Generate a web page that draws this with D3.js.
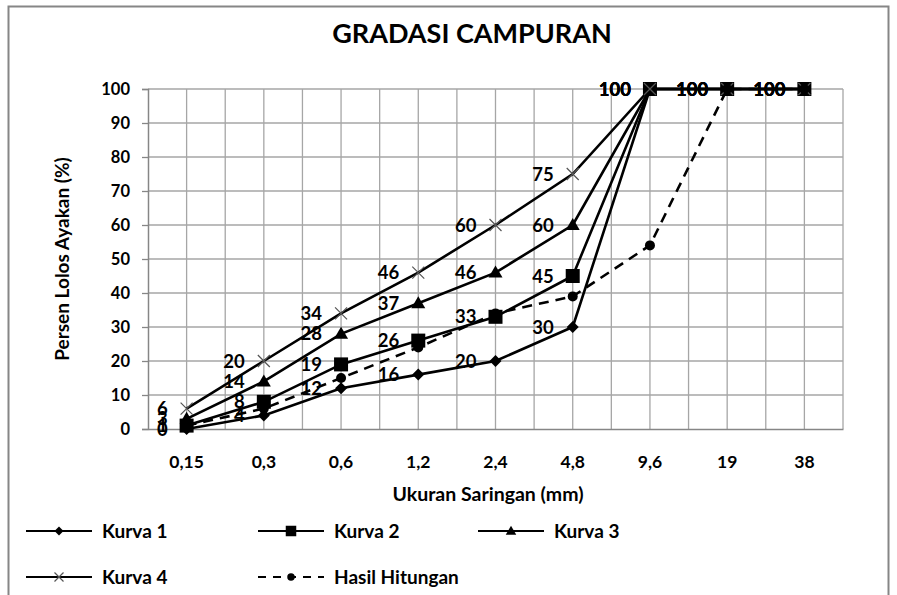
<!DOCTYPE html>
<html><head><meta charset="utf-8">
<script src="https://cdn.jsdelivr.net/npm/d3@7"></script>
<style>body{margin:0;background:#fff}svg{display:block}text{font-family:Lato,"Open Sans",sans-serif;font-weight:bold;fill:#000}</style>
</head><body><svg id="c" width="897" height="595"></svg>
<script>
const categories = ["0,15","0,3","0,6","1,2","2,4","4,8","9,6","19","38"];
const kurva1 = [0,4,12,16,20,30,100,100,100];
const kurva2 = [1,8,19,26,33,45,100,100,100];
const kurva3 = [3,14,28,37,46,60,100,100,100];
const kurva4 = [6,20,34,46,60,75,100,100,100];
const hasil  = [1,6,15,24,34,39,54,100,100];
const yTicks = [0,10,20,30,40,50,60,70,80,90,100];

const svg = d3.select("#c");
svg.append("rect").attr("x",8.5).attr("y",6.5).attr("width",880).attr("height",600)
  .attr("fill","none").attr("stroke","#868686").attr("stroke-width",2);

const L=148,R=843,T=89,B=429;
const x = d3.scaleBand().domain(categories).range([L,R]).padding(0);
const bw = x.bandwidth();
const cx = c => x(c)+bw/2;
const y = d3.scaleLinear().domain([0,100]).range([B,T]);

// grid
const g = svg.append("g");
yTicks.forEach(t=>{ if(t>0) g.append("line").attr("x1",L).attr("x2",R).attr("y1",y(t)).attr("y2",y(t)).attr("stroke","#a6a6a6").attr("stroke-width",1.3);});
categories.forEach(c=>{
  [x(c)+bw/2, x(c)+bw].forEach(v=>g.append("line").attr("x1",v).attr("x2",v).attr("y1",T).attr("y2",B).attr("stroke","#a6a6a6").attr("stroke-width",1.3));
});

// y axis
const ya = svg.append("g").attr("transform",`translate(${L},0)`)
  .call(d3.axisLeft(y).tickValues(yTicks).tickSize(6).tickPadding(12));
ya.select(".domain").attr("stroke","#868686").attr("stroke-width",1.5);
ya.selectAll(".tick line").attr("stroke","#868686").attr("stroke-width",1.3);
ya.selectAll("text").style("font-size","16.5px").style("font-family","Lato").style("font-weight","bold");
// x axis
const xa = svg.append("g").attr("transform",`translate(0,${B})`)
  .call(d3.axisBottom(x).tickSize(0).tickPadding(27));
xa.select(".domain").attr("stroke","#868686").attr("stroke-width",1.5);
xa.selectAll("text").style("font-size","17.5px").style("font-family","Lato").style("font-weight","bold");

// titles
svg.append("text").attr("x",472).attr("y",43).attr("text-anchor","middle").style("font-size","27px").text("GRADASI CAMPURAN");
svg.append("text").attr("x",488).attr("y",501).attr("text-anchor","middle").style("font-size","19.5px").text("Ukuran Saringan (mm)");
svg.append("text").attr("transform","translate(69,259) rotate(-90)").attr("text-anchor","middle").style("font-size","19px").text("Persen Lolos Ayakan (%)");

const line = d3.line().x((d,i)=>cx(categories[i])).y(d=>y(d));

function marker(sel,type,px,py,k){
  k = k||1;
  if(type==="diamond") sel.append("path").attr("d",`M${px},${py-6*k}L${px+6*k},${py}L${px},${py+6*k}L${px-6*k},${py}Z`).attr("fill","#000");
  else if(type==="square") sel.append("rect").attr("x",px-7*k).attr("y",py-7*k).attr("width",14*k).attr("height",14*k).attr("fill","#000");
  else if(type==="triangle") sel.append("path").attr("d",`M${px},${py-7*k}L${px+7*k},${py+5*k}L${px-7*k},${py+5*k}Z`).attr("fill","#000");
  else if(type==="circle") sel.append("circle").attr("cx",px).attr("cy",py).attr("r",5*k).attr("fill","#000");
  else if(type==="x") sel.append("path").attr("d",`M${px-6*k},${py-6*k}L${px+6*k},${py+6*k}M${px+6*k},${py-6*k}L${px-6*k},${py+6*k}`).attr("stroke","#555").attr("stroke-width",1.2).attr("fill","none");
}

const series = [
  {name:"Kurva 1",data:kurva1,m:"diamond",dash:null,labels:true},
  {name:"Kurva 2",data:kurva2,m:"square",dash:null,labels:true},
  {name:"Kurva 3",data:kurva3,m:"triangle",dash:null,labels:true},
  {name:"Kurva 4",data:kurva4,m:"x",dash:null,labels:true},
  {name:"Hasil Hitungan",data:hasil,m:"circle",dash:"10,7",labels:false}
];
const plot = svg.append("g");
series.forEach(s=>{
  plot.append("path").attr("d",line(s.data)).attr("fill","none").attr("stroke","#000").attr("stroke-width",2.6)
    .attr("stroke-dasharray",s.dash);
});
series.forEach(s=>{
  s.data.forEach((v,i)=>marker(plot,s.m,cx(categories[i]),y(v)));
});
series.forEach(s=>{
  if(!s.labels) return;
  s.data.forEach((v,i)=>{
    plot.append("text").attr("x",cx(categories[i])-19).attr("y",y(v)).attr("dy","0.36em")
      .attr("text-anchor","end").style("font-size","18.5px").text(v);
  });
});

// legend
const leg = svg.append("g");
const legPos = [[26,531],[258,531],[478,531],[26,577],[258,577]];
series.forEach((s,i)=>{
  const [lx,ly]=legPos[i];
  leg.append("line").attr("x1",lx).attr("x2",lx+66).attr("y1",ly).attr("y2",ly).attr("stroke","#000").attr("stroke-width",2.2)
    .attr("stroke-dasharray",s.dash?"8,7":null);
  marker(leg,s.m,lx+33,ly,0.75);
  leg.append("text").attr("x",lx+76).attr("y",ly).attr("dy","0.36em").style("font-size","19px").text(s.name);
});
</script></body></html>
